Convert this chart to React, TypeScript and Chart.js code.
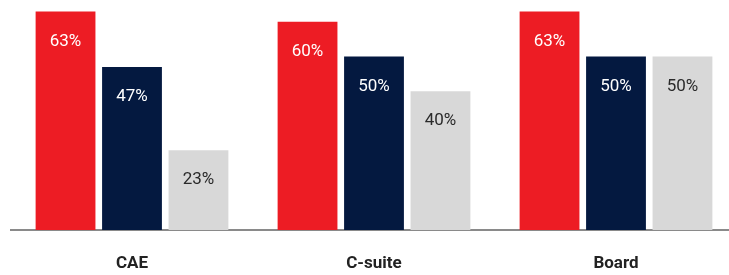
import React, { useEffect, useRef } from "react";
import { Chart, registerables } from "chart.js";

Chart.register(...registerables);

const categories = ["CAE", "C-suite", "Board"];
const seriesRed = [63, 60, 63];
const seriesNavy = [47, 50, 50];
const seriesGray = [23, 40, 50];
const seriesNames = ["Series 1", "Series 2", "Series 3"];

const valueLabelPlugin = {
  id: "valueLabels",
  afterDatasetsDraw(chart: any) {
    const ctx = chart.ctx;
    ctx.save();
    ctx.font = "400 17px Roboto, 'DejaVu Sans', sans-serif";
    ctx.textAlign = "center";
    ctx.textBaseline = "middle";
    chart.data.datasets.forEach((ds: any, di: number) => {
      const meta = chart.getDatasetMeta(di);
      meta.data.forEach((bar: any, i: number) => {
        const v = ds.data[i];
        ctx.fillStyle = ds.labelColor;
        ctx.fillText(v + "%", bar.x, bar.y + 30);
      });
    });
    ctx.restore();
  },
};

export default function App() {
  const ref = useRef<HTMLCanvasElement | null>(null);
  useEffect(() => {
    document.body.style.margin = "0";
    document.body.style.overflow = "hidden";
    const chart = new Chart(ref.current as HTMLCanvasElement, {
      type: "bar",
      data: {
        labels: categories,
        datasets: [
          { label: seriesNames[0], data: seriesRed, backgroundColor: "#ED1C24", labelColor: "#ffffff" } as any,
          { label: seriesNames[1], data: seriesNavy, backgroundColor: "#041940", labelColor: "#ffffff" } as any,
          { label: seriesNames[2], data: seriesGray, backgroundColor: "#D8D8D8", labelColor: "#2a2a2a" } as any,
        ],
      },
      options: {
        animation: false,
        responsive: false,
        maintainAspectRatio: false,
        layout: { padding: { left: 11, right: 0, top: 0, bottom: 0 } },
        plugins: { legend: { display: false }, tooltip: { enabled: false } },
        datasets: { bar: { categoryPercentage: 0.824, barPercentage: 0.9 } },
        scales: {
          x: {
            grid: { display: false, drawTicks: false },
            border: { display: true, color: "#8a8a8a", width: 2 },
            ticks: {
              padding: 24,
              color: "#222222",
              font: { family: "Roboto, 'DejaVu Sans', sans-serif", size: 17, weight: "bold" },
            },
            afterFit: (scale: any) => {
              scale.height = 45;
            },
          },
          y: {
            display: false,
            min: 0,
            max: 66.3,
          },
        },
      },
      plugins: [valueLabelPlugin],
    } as any);
    return () => chart.destroy();
  }, []);
  return (
    <div style={{ position: "absolute", left: 0, top: 0, width: 737, height: 275, background: "#ffffff" }}>
      <canvas ref={ref} width={737} height={275} style={{ width: 737, height: 275 }} />
    </div>
  );
}
